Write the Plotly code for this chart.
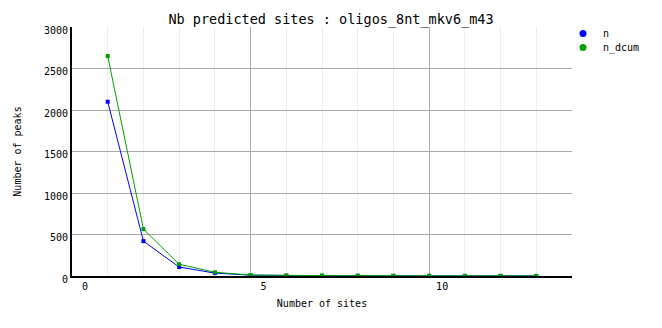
import plotly.graph_objects as go

sites = [1, 2, 3, 4, 5, 6, 7, 8, 9, 10, 11, 12, 13]
n = [2100, 420, 108, 35, 10, 4, 3, 2, 1, 1, 1, 1, 1]
n_dcum = [2650, 565, 142, 45, 12, 6, 5, 4, 3, 3, 2, 2, 1]
x_ticks = [0, 5, 10]
y_ticks = [0, 500, 1000, 1500, 2000, 2500, 3000]

BLUE = "#0000ff"
GREEN = "#00a000"
FONT = "DejaVu Sans Mono"

fig = go.Figure()
fig.add_trace(go.Scatter(x=sites, y=n, mode="lines+markers", name="n",
                         line=dict(color=BLUE, width=1),
                         marker=dict(symbol="square", size=4, color=BLUE),
                         showlegend=False))
fig.add_trace(go.Scatter(x=sites, y=n_dcum, mode="lines+markers", name="n_dcum",
                         line=dict(color=GREEN, width=1),
                         marker=dict(symbol="square", size=4, color=GREEN),
                         showlegend=False))
# legend entries (marker only)
fig.add_trace(go.Scatter(x=[None], y=[None], mode="markers", name="n",
                         marker=dict(symbol="circle", size=7, color=BLUE),
                         legend="legend"))
fig.add_trace(go.Scatter(x=[None], y=[None], mode="markers", name="n_dcum",
                         marker=dict(symbol="circle", size=7, color=GREEN),
                         legend="legend2"))

leg_common = dict(x=0.982, xanchor="left", yanchor="top",
                  font=dict(family=FONT, size=10),
                  itemwidth=30, bgcolor="rgba(0,0,0,0)")

fig.update_layout(
    width=662, height=328,
    margin=dict(l=72, r=90, t=27, b=52, autoexpand=False),
    paper_bgcolor="white", plot_bgcolor="white",
    font=dict(family=FONT, size=10, color="black"),
    title=dict(text="Nb predicted sites : oligos_8nt_mkv6_m43",
               x=0.5, xanchor="center", y=1 - 19/328, yanchor="middle",
               font=dict(family=FONT, size=13.5, color="black")),
    legend=dict(y=1.032, **leg_common),
    legend2=dict(y=0.976, **leg_common),
    xaxis=dict(range=[0, 14], tickvals=x_ticks, ticktext=[str(v) for v in x_ticks],
               showgrid=True, gridcolor="#aaaaaa", gridwidth=1,
               minor=dict(dtick=1, showgrid=True, gridcolor="#eeeeee", gridwidth=1),
               showline=True, linecolor="black", linewidth=2,
               zeroline=False, ticks="", ticklabelshift=13,
               tickfont=dict(family=FONT, size=10),
               title=dict(text="Number of sites", standoff=9,
                          font=dict(family=FONT, size=10))),
    yaxis=dict(range=[0, 3000], tickvals=y_ticks,
               showgrid=True, gridcolor="#aaaaaa", gridwidth=1,
               showline=True, linecolor="black", linewidth=2,
               zeroline=False, ticks="", ticklabelshift=3,
               tickfont=dict(family=FONT, size=10),
               title=dict(text="Number of peaks", standoff=20,
                          font=dict(family=FONT, size=10))),
)

fig.write_html("out.html")
